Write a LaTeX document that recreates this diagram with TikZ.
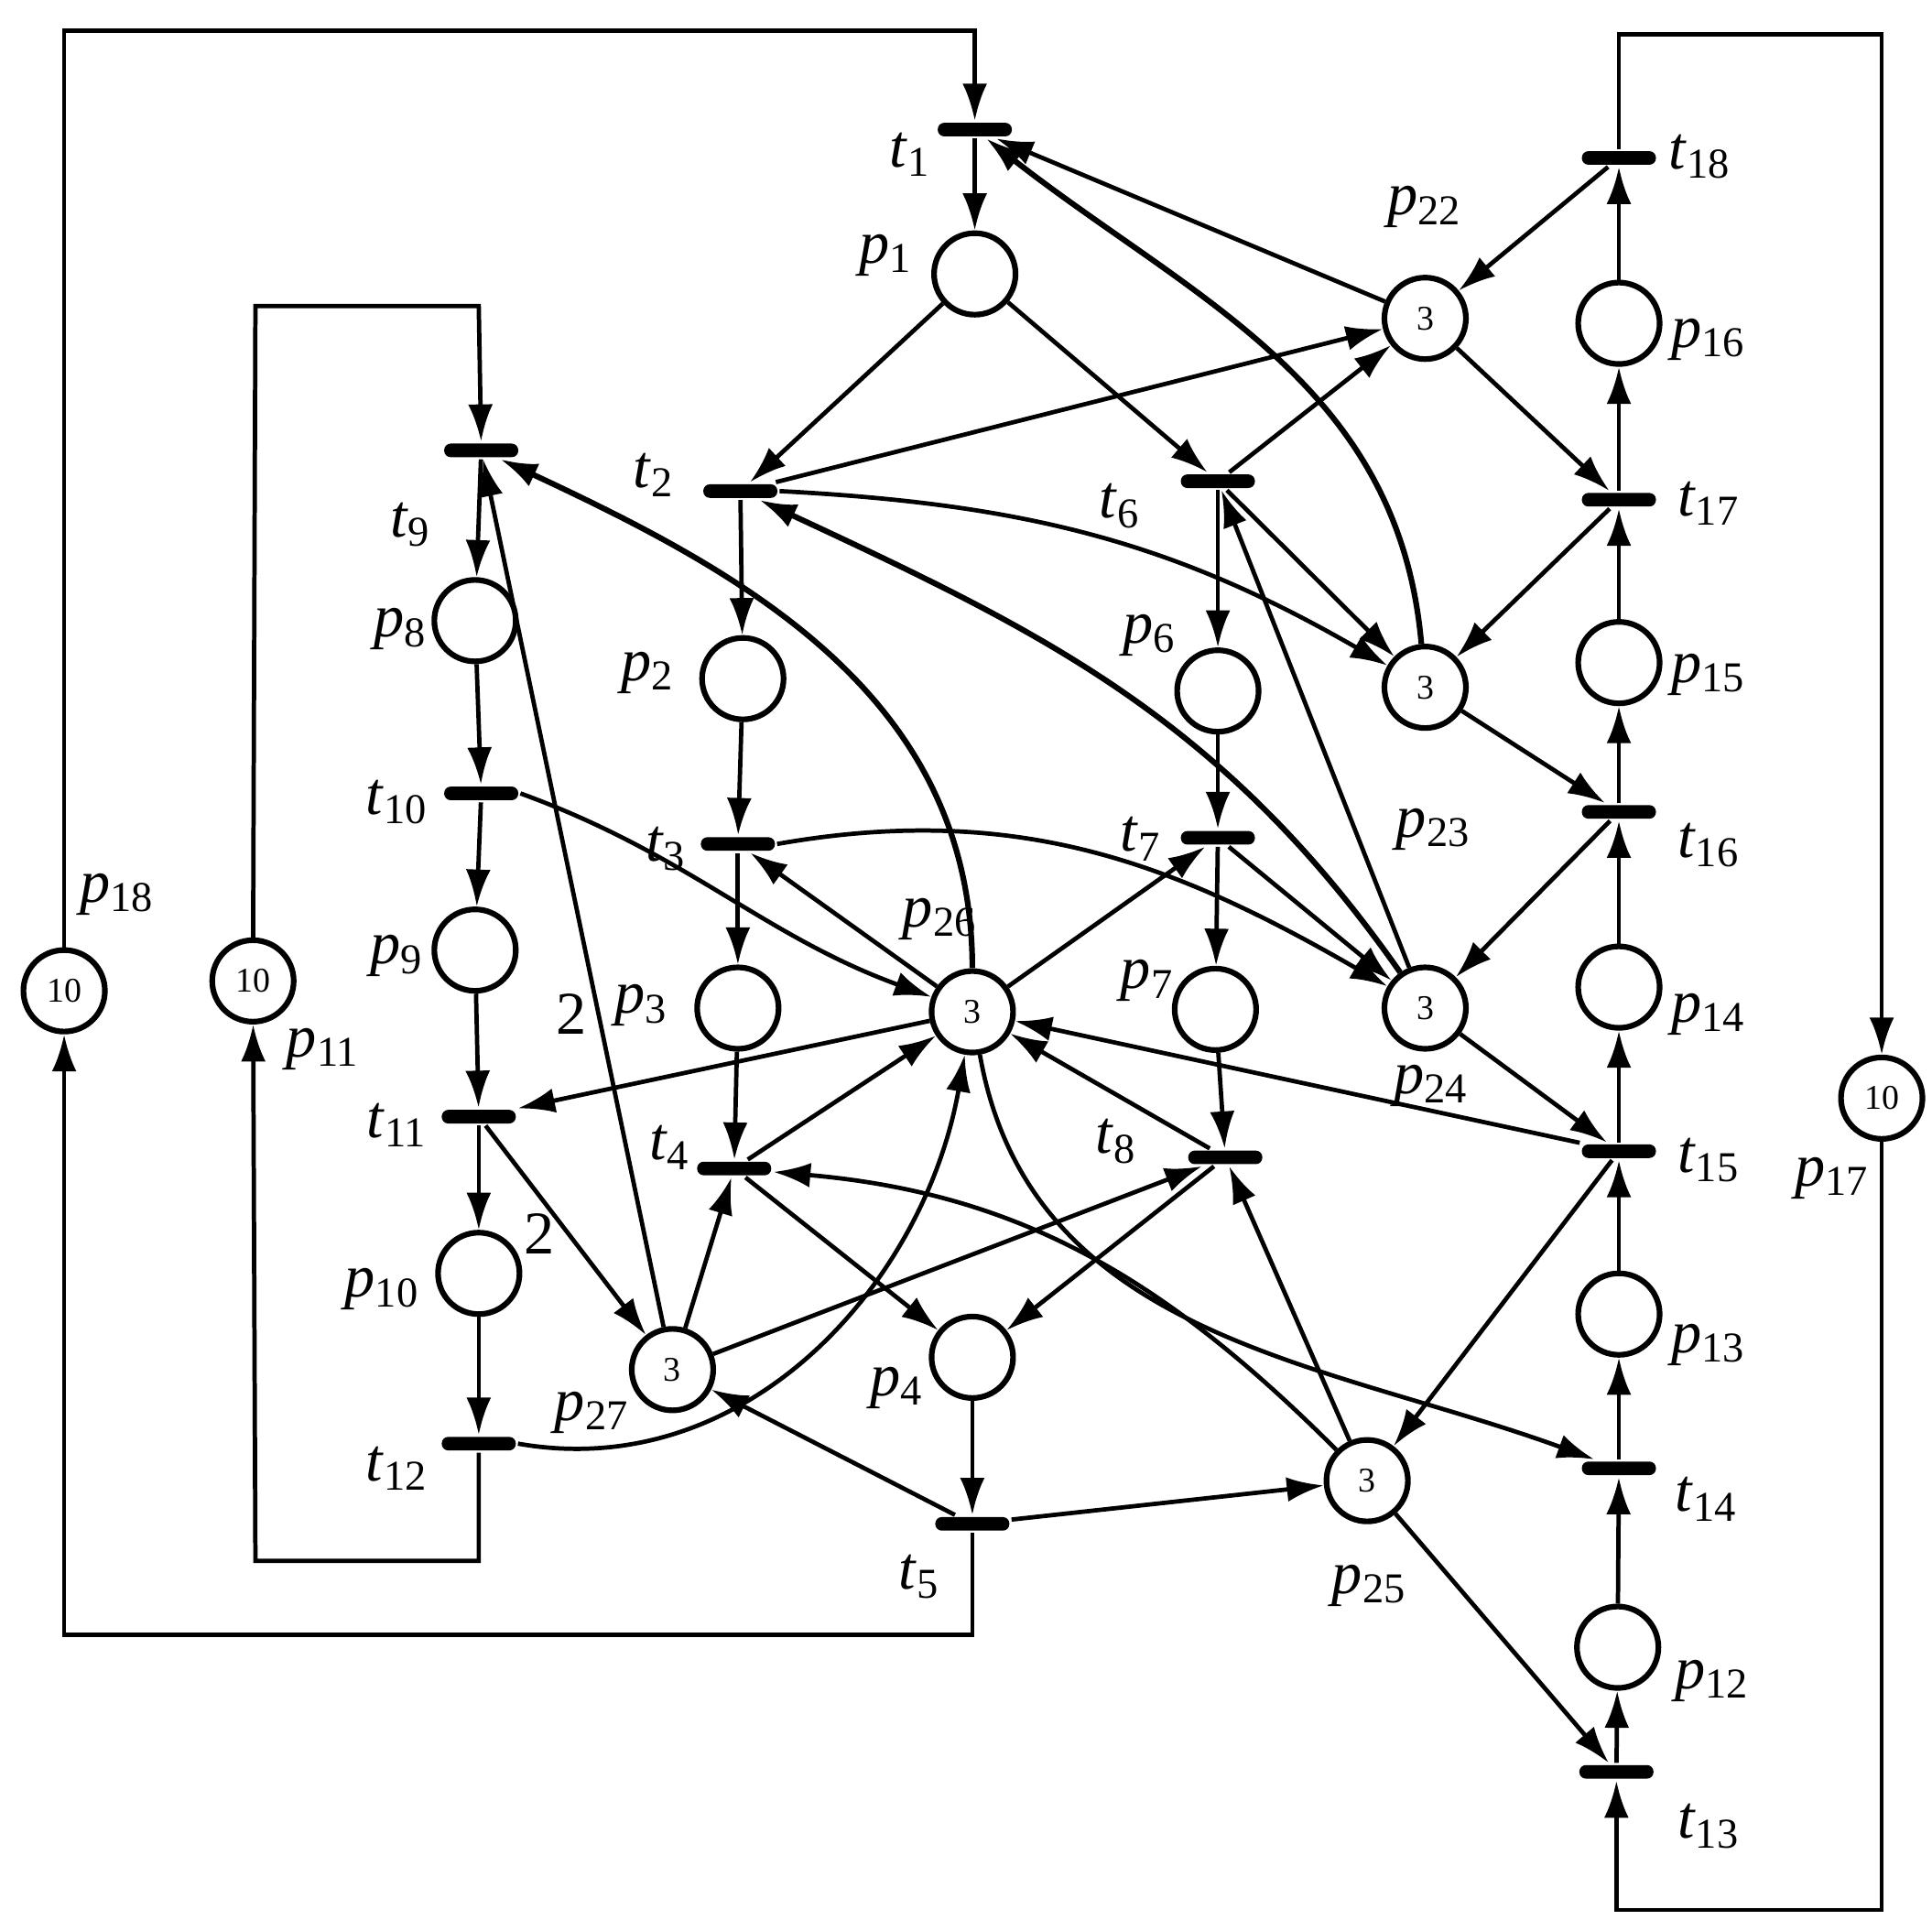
\documentclass[tikz,border=0pt]{standalone}
\usepackage{fontspec}
\setmainfont{Liberation Serif}
\usetikzlibrary{arrows.meta}
\begin{document}
\begin{tikzpicture}[x=0.01cm,y=-0.01cm,
 pl/.style={circle,draw,line width=1.3pt,minimum size=0.66cm,inner sep=0pt,font=\fontsize{8}{8}\selectfont},
 tr/.style={rectangle,fill=black,rounded corners=1.5pt,minimum width=0.6cm,minimum height=0.11cm,inner sep=0pt},
 lb/.style={font=\fontsize{14}{14}\selectfont},
 every path/.style={line width=1pt},
 >={Latex[length=0.3cm,width=0.2cm]}]
\useasboundingbox (0,0) rectangle (1565,1565);
% transitions
\foreach \n/\x/\y in {t1/790/105,t2/600/398,t3/598/684,t4/595/947,t5/788/1235,t6/987/390,t7/987/679,t8/993/938,t9/390/365,t10/390/643,t11/388/905,t12/388/1170,t13/1310/1436,t14/1312/1190,t15/1312/933,t16/1312/658,t17/1312/405,t18/1312/128}
  \node[tr] (\n) at (\x,\y) {};
% places
\foreach \n/\x/\y/\k in {p1/790/222/,p2/602/550/,p3/598/817/,p4/788/1100/,p6/987/560/,p7/985/818/,p8/385/503/,p9/385/770/,p10/388/1032/,p12/1311/1335/,p13/1312/1065/,p14/1312/800/,p15/1312/537/,p16/1312/262/,p11/205/795/10,p18/52/803/10,p17/1525/890/10,p22/1155/258/3,p23/1155/557/3,p24/1155/817/3,p25/1108/1200/3,p26/788/820/3,p27/545/1110/3}
  \node[pl] (\n) at (\x,\y) {\k};
% labels
\foreach \l/\s/\x/\y in {t/1/738/125,t/2/530/385,t/3/540/688,t/4/543/930,t/5/745/1278,t/6/908/410,t/7/925/680,t/8/905/925,t/9/333/425,t/10/322/650,t/11/322/912,t/12/322/1190,t/13/1385/1480,t/14/1383/1215,t/15/1385/940,t/16/1385/685,t/17/1385/408,t/18/1378/127,
 p/1/718/207,p/2/525/545,p/3/520/815,p/4/727/1125,p/6/932/515,p/7/930/795,p/8/325/510,p/9/322/775,p/10/310/1045,p/12/1388/1362,p/13/1385/1090,p/14/1385/822,p/15/1385/547,p/16/1385/275,p/11/262/850,p/18/95/725,p/17/1485/955,p/22/1155/168,p/23/1162/672,p/24/1160/880,p/25/1110/1285,p/26/762/745,p/27/480/1145}
  \node[lb] at (\x,\y) {\textit{\l}\textsubscript{\s}};
\node[font=\fontsize{14}{14}\selectfont] (w1) at (463,822) {2};
\node[font=\fontsize{14}{14}\selectfont] (w2) at (437,1000) {2};
% loops
\coordinate (a1) at (52,25); \coordinate (a2) at (790,25);
\draw[->] (p18) -- (a1) -- (a2) -- (t1);
\coordinate (a3) at (788,1325); \coordinate (a4) at (52,1325);
\draw[->] (t5) -- (a3) -- (a4) -- (p18);
\coordinate (b1) at (207,248); \coordinate (b2) at (388,248);
\draw[->] (p11) -- (b1) -- (b2) -- (t9);
\coordinate (b3) at (388,1265); \coordinate (b4) at (207,1265);
\draw[->] (t12) -- (b3) -- (b4) -- (p11);
\coordinate (c1) at (1312,28); \coordinate (c2) at (1525,28);
\draw[->] (t18) -- (c1) -- (c2) -- (p17);
\coordinate (c3) at (1525,1548); \coordinate (c4) at (1310,1548);
\draw[->] (p17) -- (c3) -- (c4) -- (t13);
% straight arcs
\foreach \a/\b in {t13/p12,p12/t14,t14/p13,p13/t15,t15/p14,p14/t16,t16/p15,p15/t17,t17/p16,p16/t18,
 t1/p1,p1/t2,p1/t6,t2/p2,p2/t3,t3/p3,p3/t4,t4/p4,p4/t5,t6/p6,p6/t7,t7/p7,p7/t8,t8/p4,
 t9/p8,p8/t10,t10/p9,p9/t11,t11/p10,p10/t12,
 p22/t1,t18/p22,p22/t17,t2/p22,t6/p22,t6/p23,t17/p23,p23/t16,p24/t6,t7/p24,t16/p24,p24/t15,
 p26/t3,p26/t7,p26/t11,t4/p26,t15/p26,t8/p26,p27/t9,t11/p27,p27/t4,p27/t8,t5/p27,p25/t8,t5/p25,t15/p25,p25/t13}
  \draw[->] (\a) -- (\b);
% curved arcs
\draw[->,line width=1.3pt] (p23) to[out=95,in=-38] (t1);
\draw[->] (t2.east) to[out=-3,in=150] (p23);
\draw[->,line width=1.3pt] (p24) to[out=125,in=-25] (t2);
\draw[->] (t3.east) to[out=10,in=150] (p24);
\draw[->,line width=1.3pt] (p26) to[out=90,in=-25] (t9);
\draw[->] (t10.east) to[out=-20,in=160] (p26);
\draw[->] (t12.east) to[out=-10,in=-100] (p26);
\draw[->] (p26) to[out=-80,in=160] (t14);
\draw[->] (p25) to[out=135,in=-5] (t4);
\end{tikzpicture}
\end{document}
